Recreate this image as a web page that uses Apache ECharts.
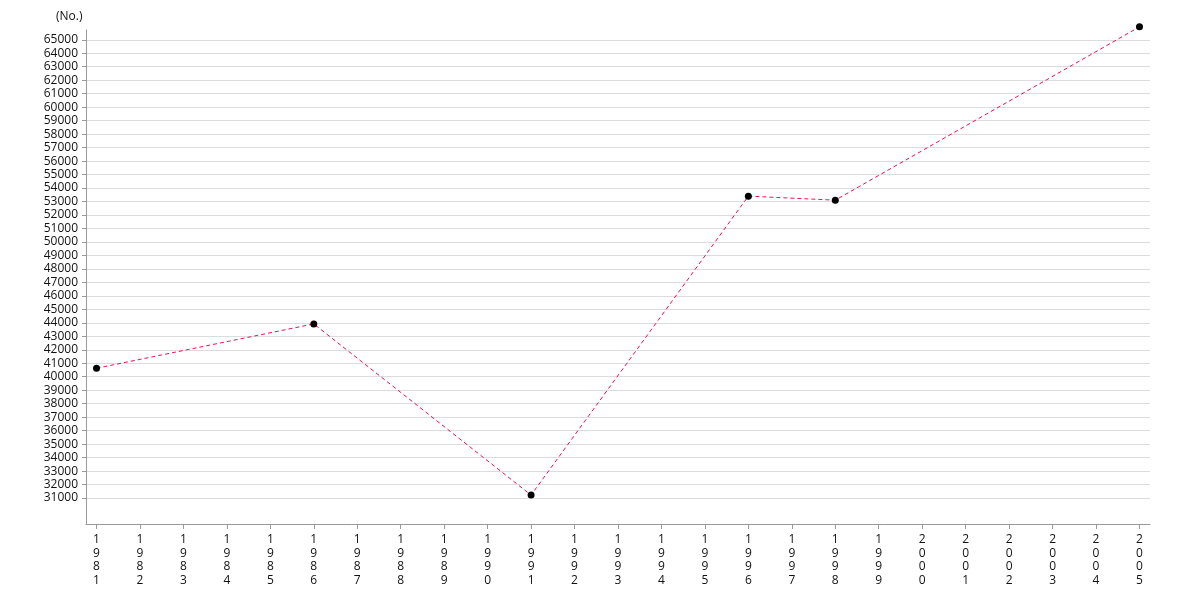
<!DOCTYPE html>
<html>
<head>
<meta charset="utf-8">
<script src="https://cdn.jsdelivr.net/npm/echarts@6/dist/echarts.min.js"></script>
<style>
html,body{margin:0;padding:0;background:#fff;}
#main{width:1180px;height:600px;}
</style>
</head>
<body>
<div id="main"></div>
<script>
var years = [1981, 1986, 1991, 1996, 1998, 2005];
var values = [40630, 43920, 31220, 53400, 53100, 65960];
var yearTicks = [1981,1982,1983,1984,1985,1986,1987,1988,1989,1990,1991,1992,1993,1994,1995,1996,1997,1998,1999,2000,2001,2002,2003,2004,2005];
var valueTicks = [31000,32000,33000,34000,35000,36000,37000,38000,39000,40000,41000,42000,43000,44000,45000,46000,47000,48000,49000,50000,51000,52000,53000,54000,55000,56000,57000,58000,59000,60000,61000,62000,63000,64000,65000];
var unitLabel = '(No.)';

var points = years.map(function (y, i) { return [y, values[i]]; });
var font = 'Open Sans';
var chart = echarts.init(document.getElementById('main'), null, {renderer: 'canvas'});
chart.setOption({
  animation: false,
  backgroundColor: '#fff',
  title: {
    text: unitLabel, left: 51, top: 6,
    textStyle: {fontFamily: font, fontSize: 12, fontWeight: 'normal', color: '#111'}
  },
  grid: {left: 86, right: 30, top: 30, bottom: 76, containLabel: false},
  xAxis: {
    type: 'value',
    min: 1980.758, max: 2005.242,
    axisLine: {show: true, onZero: false, lineStyle: {color: '#999', width: 1}},
    axisTick: {show: true, length: 5, customValues: yearTicks, lineStyle: {color: '#999'}},
    axisLabel: {
      customValues: yearTicks,
      fontFamily: font, fontSize: 12, color: '#111', lineHeight: 13.5, margin: 9,
      formatter: function (v) { return String(Math.round(v)).split('').join('\n'); }
    },
    splitLine: {show: false}
  },
  yAxis: {
    type: 'value',
    min: 29074, max: 65726,
    axisLine: {show: true, lineStyle: {color: '#999', width: 1}},
    axisTick: {show: true, length: 4, customValues: valueTicks, lineStyle: {color: '#999'}},
    axisLabel: {
      customValues: valueTicks,
      fontFamily: font, fontSize: 12, color: '#111', margin: 8,
      formatter: function (v) { return String(v); }
    },
    splitLine: {show: true, lineStyle: {color: '#dcdcdc', width: 1}}
  },
  series: [{
    type: 'line',
    data: points,
    symbol: 'circle',
    symbolSize: 7,
    itemStyle: {color: '#000'},
    lineStyle: {color: '#ee1155', width: 1, type: [4, 3]},
    clip: false
  }]
});
</script>
</body>
</html>
